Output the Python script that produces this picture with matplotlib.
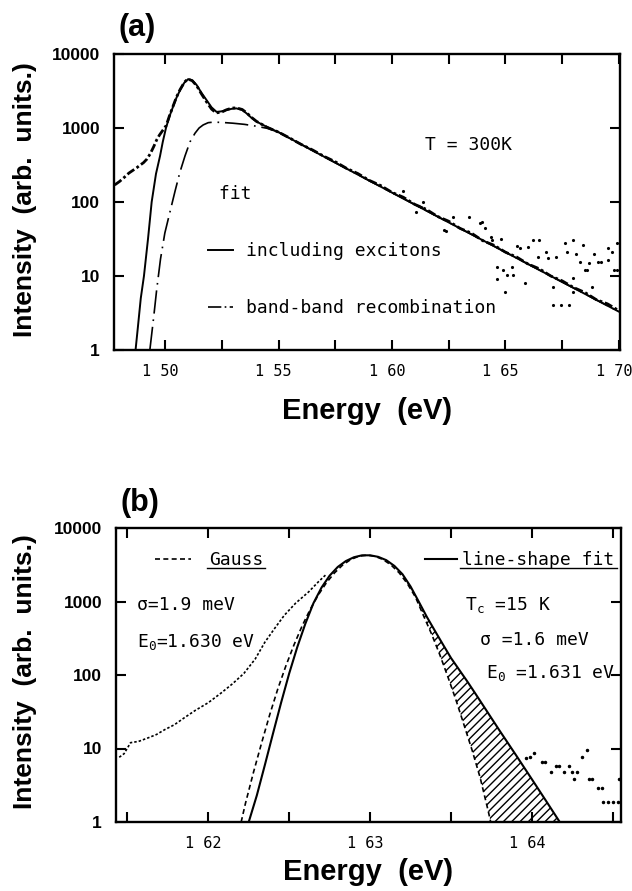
import numpy as np
import matplotlib.pyplot as plt
from matplotlib.lines import Line2D
from matplotlib.transforms import ScaledTranslation

plt.rcParams['font.family'] = ['DejaVu Sans']
plt.rcParams['mathtext.fontset'] = 'custom'
plt.rcParams['mathtext.rm'] = 'DejaVu Sans Mono'
plt.rcParams['mathtext.it'] = 'DejaVu Sans Mono'
plt.rcParams['hatch.linewidth'] = 1.0

BOLD = ['Liberation Sans', 'DejaVu Sans']
MONO = ['DejaVu Sans Mono', 'DejaVu Sans']

# ---------------- panel (a) : T = 300 K ----------------
a_ticks = [1.50, 1.55, 1.60, 1.65, 1.70]
a_ticklabels = ['1 50', '1 55', '1 60', '1 65', '1 70']
a_minor = [1.525, 1.575, 1.625, 1.675]

# measured spectrum
a_data_e = [1.4778, 1.4800, 1.4820, 1.4840, 1.4860, 1.4875, 1.4890, 1.4905, 1.4920,
            1.4935, 1.4950, 1.4963, 1.4975, 1.4990, 1.5005, 1.5020, 1.5036, 1.5050,
            1.5066, 1.5085, 1.5100, 1.5120, 1.5140, 1.5160, 1.5183, 1.5205, 1.5225,
            1.5250, 1.5270, 1.5295, 1.5315, 1.5340, 1.5360, 1.5380, 1.5403, 1.5450,
            1.5500, 1.5550, 1.5600, 1.5650, 1.5700, 1.5750, 1.5800, 1.5850, 1.5900,
            1.5950, 1.6000, 1.6050, 1.6100, 1.6150, 1.6200, 1.6250, 1.6300, 1.6350,
            1.6400, 1.6450, 1.6500, 1.6550, 1.6600, 1.6650, 1.6700, 1.6750, 1.6800,
            1.6850, 1.6900, 1.6950, 1.7000]
a_data_i = [170, 190, 215, 245, 270, 290, 315, 340, 380,
            450, 560, 690, 800, 930, 1080, 1480, 2000, 2600,
            3300, 4150, 4600, 4350, 3700, 2900, 2250, 1800, 1600,
            1640, 1760, 1860, 1870, 1780, 1600, 1400, 1230, 1020,
            880, 730, 600, 505, 415, 350, 285, 242, 196,
            167, 135, 116, 93, 80, 64, 55, 44, 38,
            30, 26, 21, 18, 14.5, 12.5, 10, 8.6, 7.0,
            6.0, 4.8, 4.2, 3.4]

# scattered points of the noisy high-energy tail
a_noise_e = [1.6048, 1.6108, 1.6136, 1.6127, 1.6240, 1.6270, 1.6230, 1.6340, 1.6387,
             1.6395, 1.6410, 1.6438, 1.6440, 1.6480, 1.6461, 1.6490, 1.6527, 1.6505,
             1.6534, 1.6461, 1.6497, 1.6585, 1.6622, 1.6600, 1.6550, 1.6564, 1.6644,
             1.6650, 1.6680, 1.6688, 1.6725, 1.6710, 1.6710, 1.6762, 1.6770, 1.6800,
             1.6810, 1.6840, 1.6830, 1.6870, 1.6860, 1.6890, 1.6910, 1.6920, 1.6950,
             1.6950, 1.6970, 1.6980, 1.6800, 1.6800, 1.6850, 1.6880, 1.6780, 1.6744,
             1.6990, 1.6990]
a_noise_i = [142, 74, 100, 85, 41, 63, 42, 63, 52,
             54, 45, 34, 31, 31.5, 13.3, 12, 13.3, 10.3,
             10.3, 9, 6.1, 8.1, 31, 25, 25.4, 23.6, 18.2,
             31, 21, 17.3, 18.2, 7.2, 4.1, 28, 21, 31,
             20, 26, 15.5, 15, 12, 20, 15.5, 15.5, 24,
             16.5, 21, 12, 9.4, 6, 12, 7, 4, 4,
             28, 12]

# fit including excitons
a_exc_e = [1.4870, 1.4880, 1.4893, 1.4907, 1.4925, 1.4941, 1.4960, 1.4978, 1.4990,
           1.5004, 1.5020, 1.5036, 1.5050, 1.5066, 1.5085, 1.5102, 1.5120, 1.5139,
           1.5160, 1.5183, 1.5205, 1.5227, 1.5250, 1.5271, 1.5295, 1.5315, 1.5340,
           1.5360, 1.5380, 1.5403, 1.5450, 1.5500, 1.5750, 1.6000, 1.6250, 1.6500,
           1.6750, 1.7000]
a_exc_i = [1, 2, 5, 10, 32, 100, 240, 420, 650,
           1000, 1450, 1970, 2550, 3240, 4100, 4580, 4400, 3820,
           3000, 2380, 1900, 1650, 1680, 1750, 1820, 1840, 1750,
           1570, 1380, 1220, 1030, 877, 340, 134, 53, 21,
           8.3, 3.3]

# fit, band-band recombination only
a_bb_e = [1.4933, 1.4950, 1.4963, 1.4980, 1.4999, 1.5020, 1.5044, 1.5065, 1.5088,
          1.5110, 1.5132, 1.5150, 1.5168, 1.5190, 1.5212, 1.5250, 1.5300, 1.5350,
          1.5400, 1.5450, 1.5500, 1.5750, 1.6000, 1.6250, 1.6500, 1.6750, 1.7000]
a_bb_i = [1, 2.8, 6.5, 17, 38, 70, 140, 250, 420,
          650, 850, 1000, 1100, 1180, 1200, 1190, 1160, 1120,
          1060, 990, 880, 340, 134, 53, 21, 8.3, 3.3]

# ---------------- panel (b) : line-shape fit ----------------
b_ticks = [1.62, 1.63, 1.64]
b_ticklabels = ['1 62', '1 63', '1 64']
b_minor = [1.615, 1.625, 1.635, 1.645]

b_data_e = [1.6145, 1.6148, 1.6152, 1.6157, 1.6163, 1.6168, 1.6173, 1.6179, 1.6185,
            1.6192, 1.6200, 1.6208, 1.6215, 1.6222, 1.6229, 1.6235, 1.6241, 1.6247,
            1.6254, 1.6262, 1.6268, 1.6273]
b_data_i = [7.6, 8.5, 12, 12.5, 14, 15.5, 18, 21, 26,
            33, 42, 57, 76, 105, 165, 280, 430, 650,
            950, 1350, 1850, 2350]

b_tail_e = [1.6396, 1.6399, 1.6401, 1.6406, 1.6408, 1.6412, 1.6415, 1.6417, 1.6420,
            1.6423, 1.6425, 1.6426, 1.6428, 1.6431, 1.6434, 1.6435, 1.6437, 1.6441,
            1.6443, 1.6444, 1.6447, 1.6450, 1.6453, 1.6455, 1.6454]
b_tail_i = [7.4, 7.6, 8.6, 6.6, 6.6, 4.8, 5.7, 5.7, 4.8,
            5.7, 4.8, 3.8, 4.8, 7.6, 9.5, 3.8, 3.8, 2.9,
            2.9, 1.9, 1.9, 1.9, 1.9, 1.9, 3.8]

b_gauss_e = [1.6218, 1.6223, 1.6228, 1.6233, 1.6238, 1.6243, 1.6248, 1.6253, 1.6258,
             1.6263, 1.6268, 1.6273, 1.6278, 1.6283, 1.6288, 1.6293, 1.6298, 1.6303,
             1.6308, 1.6313, 1.6318, 1.6323, 1.6328, 1.6333, 1.6338, 1.6343, 1.6348,
             1.6353, 1.6358, 1.6363, 1.6368, 1.6373, 1.6378]
b_gauss_i = [0.6, 1.8, 4.8, 12, 29, 65, 134, 258, 466,
             783, 1230, 1800, 2450, 3130, 3720, 4130, 4270, 4130,
             3720, 3130, 2450, 1750, 1150, 640, 360, 190, 95,
             46, 21, 9.5, 4, 1.4, 0.45]

b_fit_e = [1.6225, 1.6230, 1.6235, 1.6240, 1.6245, 1.6250, 1.6255, 1.6260, 1.6265,
           1.6270, 1.6275, 1.6280, 1.6285, 1.6290, 1.6295, 1.6300, 1.6305, 1.6310,
           1.6315, 1.6320, 1.6325, 1.6330, 1.6335, 1.6340, 1.6345, 1.6350, 1.6355,
           1.6360, 1.6365, 1.6370, 1.6380, 1.6390, 1.6400, 1.6410, 1.6420]
b_fit_i = [1.0, 2.3, 6, 16, 42, 105, 240, 500, 950,
           1550, 2250, 2950, 3550, 4000, 4250, 4250, 4050, 3650,
           3050, 2350, 1600, 1000, 620, 400, 260, 170, 118,
           82, 56, 38, 17.5, 8.2, 3.8, 1.75, 0.8]

y_ticks = [1, 10, 100, 1000, 10000]
y_ticklabels = ['1', '10', '100', '1000', '10000']


def style_axes(ax, xlim, major, labels, minor, xpad):
    ax.set_yscale('log')
    ax.set_ylim(1, 10000)
    ax.set_xlim(*xlim)
    ax.set_yticks(y_ticks)
    ax.set_yticklabels(y_ticklabels, fontsize=12.5, fontweight='bold', family=BOLD)
    ax.yaxis.set_minor_locator(plt.NullLocator())
    ax.set_xticks(major)
    ax.set_xticklabels(labels, fontsize=11, family=MONO)
    ax.set_xticks(minor, minor=True)
    ax.tick_params(which='both', direction='in', top=True, right=True,
                   length=7, width=1.5)
    ax.tick_params(axis='y', pad=10)
    ax.tick_params(axis='x', pad=10)
    for s in ax.spines.values():
        s.set_linewidth(1.7)
    ax.set_xlabel('Energy  (eV)', fontsize=21, fontweight='bold', family=BOLD,
                  labelpad=xpad)
    # the printed labels sit a little left of their ticks
    shift = ScaledTranslation(-0.05, 0, fig.dpi_scale_trans)
    for lab in ax.get_xticklabels():
        lab.set_transform(lab.get_transform() + shift)


fig = plt.figure(figsize=(6.32, 8.91), dpi=100)
fig.patch.set_facecolor('white')

# ---- (a)
ax1 = fig.add_axes([114 / 632, 1 - 350 / 891, 506 / 632, 296 / 891])
style_axes(ax1, (1.4775, 1.7005), a_ticks, a_ticklabels, a_minor, 13)

ax1.plot(a_data_e, a_data_i, color='black', lw=2.0, ls=(0, (3, 1, 1, 1)))
ax1.plot(a_noise_e, a_noise_i, ls='none', marker='.', ms=2.5, color='black')
exc_line, = ax1.plot(a_exc_e, a_exc_i, color='black', lw=1.4,
                     label='including excitons')
bb_line, = ax1.plot(a_bb_e, a_bb_i, color='black', lw=1.2,
                    dashes=(14, 3.5, 1, 3.5), label='band-band recombination')

ax1.text(0.615, 0.693, 'T = 300K', transform=ax1.transAxes, fontsize=13,
         family=MONO, va='center')
leg1 = ax1.legend(handles=[exc_line, bb_line], title=' fit', loc='upper left',
                  bbox_to_anchor=(0.186, 0.556), frameon=False,
                  prop={'family': MONO, 'size': 13},
                  title_fontproperties={'family': MONO, 'size': 13},
                  alignment='left', handlelength=1.4, handletextpad=0.7,
                  labelspacing=2.15, borderpad=0, borderaxespad=0)
leg1.legend_handles[1].set_dashes((8, 2, 1, 2))

fig.text(119 / 632, 1 - 28 / 891, '(a)', fontsize=22, fontweight='bold',
         family=BOLD, va='center', ha='left')
fig.text(25 / 632, 1 - 200 / 891, 'Intensity  (arb.  units.)', rotation=90,
         fontsize=19, fontweight='bold', family=BOLD, va='center', ha='center')

# ---- (b)
ax2 = fig.add_axes([116 / 632, 1 - 822 / 891, 505 / 632, 294 / 891])
style_axes(ax2, (1.6143, 1.6455), b_ticks, b_ticklabels, b_minor, 5)

gauss_e = np.array(b_gauss_e)
gauss_i = np.array(b_gauss_i)
fit_e = np.array(b_fit_e)
fit_i = np.array(b_fit_i)
g_side = gauss_e >= 1.6318
f_side = fit_e >= 1.6320
ax2.fill(np.concatenate([gauss_e[g_side], fit_e[f_side][::-1]]),
         np.concatenate([gauss_i[g_side], fit_i[f_side][::-1]]),
         facecolor='none', edgecolor='black', hatch='////', lw=0)

ax2.plot(b_data_e, b_data_i, color='black', lw=1.2, ls=(0, (1.5, 1.2)))
ax2.plot(b_tail_e, b_tail_i, ls='none', marker='.', ms=3, color='black')
gauss_line, = ax2.plot(b_gauss_e, b_gauss_i, color='black', lw=1.2,
                       dashes=(3, 2), label='Gauss')
fit_line, = ax2.plot(b_fit_e, b_fit_i, color='black', lw=1.5,
                     label='line-shape fit')

leg_g = ax2.legend(handles=[gauss_line], loc='center left',
                   bbox_to_anchor=(0.077, 0.891), frameon=False,
                   prop={'family': MONO, 'size': 13}, handlelength=2.0,
                   handletextpad=1.0, borderpad=0, borderaxespad=0)
ax2.add_artist(leg_g)
leg_f = ax2.legend(handles=[fit_line], loc='center left',
                   bbox_to_anchor=(0.611, 0.891), frameon=False,
                   prop={'family': MONO, 'size': 13}, handlelength=1.8,
                   handletextpad=0.3, borderpad=0, borderaxespad=0)

txt = dict(transform=ax2.transAxes, fontsize=13, family=MONO, va='center')
ax2.text(0.042, 0.738, 'σ=1.9 meV', **txt)
ax2.text(0.042, 0.612, 'E$_0$=1.630 eV', **txt)
ax2.text(0.692, 0.738, 'T$_c$ =15 K', **txt)
ax2.text(0.720, 0.619, 'σ =1.6 meV', **txt)
ax2.text(0.732, 0.507, 'E$_0$ =1.631 eV', **txt)

fig.text(121 / 632, 1 - 503 / 891, '(b)', fontsize=22, fontweight='bold',
         family=BOLD, va='center', ha='left')
fig.text(25 / 632, 1 - 672 / 891, 'Intensity  (arb.  units.)', rotation=90,
         fontsize=19, fontweight='bold', family=BOLD, va='center', ha='center')

# underline the two legend labels of (b)
fig.canvas.draw()
renderer = fig.canvas.get_renderer()
inv = fig.transFigure.inverted()
for leg in (leg_g, leg_f):
    for t in leg.get_texts():
        bb = t.get_window_extent(renderer)
        (x0, y0), (x1, _) = inv.transform([(bb.x0 - 2, bb.y0 + 1), (bb.x1 + 2, bb.y0 + 1)])
        fig.add_artist(Line2D([x0, x1], [y0, y0], transform=fig.transFigure,
                              color='black', lw=1.0))

fig.savefig('out.png', dpi=100, facecolor='white')
